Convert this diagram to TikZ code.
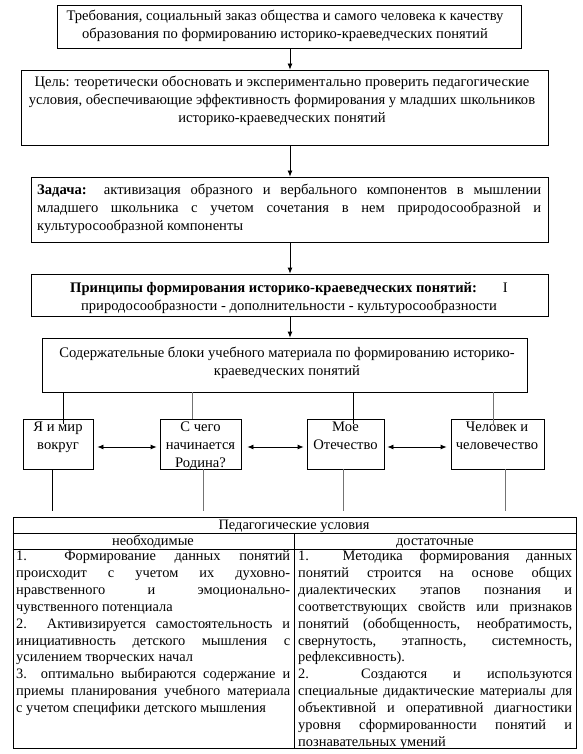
\documentclass[tikz,border=0pt]{standalone}
\usepackage{fontspec}
\setmainfont{Liberation Serif}
\usetikzlibrary{arrows.meta}
\newcommand\jline[2]{\makebox[#1][s]{#2}}
\begin{document}
\begin{tikzpicture}[x=1pt,y=-1pt,
  box/.style={draw, line width=0.8pt, inner sep=0pt},
  txt/.style={inner sep=0pt, font=\fontsize{14.6}{17.8}\selectfont, align=center, anchor=north},
  ltxt/.style={inner sep=0pt, font=\fontsize{14.6}{17.8}\selectfont, align=left, anchor=north west},
  tbtxt/.style={inner sep=0pt, font=\fontsize{14.4}{16.9}\selectfont, align=left, anchor=north west},
  tblab/.style={inner sep=0pt, font=\fontsize{14.4}{16.9}\selectfont, anchor=base},
  arr/.style={-{Latex[length=6pt,width=5pt]}, line width=0.8pt},
  darr/.style={{Latex[length=6pt,width=5pt]}-{Latex[length=6pt,width=5pt]}, line width=0.8pt},
  conn/.style={line width=0.8pt},
  gconn/.style={line width=1pt, draw=black!55}]
\useasboundingbox (0,0) rectangle (582,754);

% main boxes
\node[box, minimum width=464pt, minimum height=43pt] (b1) at (289,26.5) {};
\node[box, minimum width=527pt, minimum height=75pt] (b2) at (284.5,107.5) {};
\node[box, minimum width=517pt, minimum height=65pt] (b3) at (289.5,209.5) {};
\node[box, minimum width=517pt, minimum height=42pt] (b4) at (289.5,295) {};
\node[box, minimum width=485pt, minimum height=54pt] (b5) at (284.5,365) {};

% small boxes
\node[box, minimum width=70pt, minimum height=50pt] (sa) at (58,444) {};
\node[box, minimum width=81pt, minimum height=50pt] (sb) at (200.5,444) {};
\node[box, minimum width=77pt, minimum height=50pt] (sc) at (345.5,444) {};
\node[box, minimum width=93pt, minimum height=50pt] (sd) at (497.5,444) {};

% table
\node[box, minimum width=563pt, minimum height=231pt] (tbl) at (294.5,632.5) {};
\coordinate (r1) at (0,533);
\coordinate (r2) at (0,549);
\coordinate (cd) at (294,0);
\draw[conn] (tbl.west |- r1) -- (tbl.east |- r1);
\draw[conn] (tbl.west |- r2) -- (tbl.east |- r2);
\draw[conn] (cd |- r1) -- (cd |- tbl.south);

% texts
\node[txt] (t1) at (285,8.3) {\strut Требования, социальный заказ общества и самого человека к качеству\\образования по формированию историко-краеведческих понятий};
\node[txt] (t2) at (282,74) {\strut Цель: теоретически обосновать и экспериментально проверить педагогические\\условия, обеспечивающие эффективность формирования у младших школьников\\историко-краеведческих понятий};
\node[ltxt] (t3) at (37,182) {\strut\jline{504pt}{\textbf{Задача:} активизация образного и вербального компонентов в мышлении}\\\jline{504pt}{младшего школьника с учетом сочетания в нем природосообразной и}\\культуросообразной компоненты};
\node[txt] (t4) at (289,280) {\strut\textbf{Принципы формирования историко-краеведческих понятий:}\hspace{26pt}I\\природосообразности - дополнительности - культуросообразности};
\node[txt] (t5) at (287,345) {\strut Содержательные блоки учебного материала по формированию историко-\\краеведческих понятий};

\node[txt] (ta) at (58,419) {\strut Я и мир\\вокруг};
\node[txt] (tb) at (200.5,419) {\strut С чего\\начинается\\Родина?};
\node[txt] (tc) at (345.5,419) {\strut Мое\\Отечество};
\node[txt] (td) at (497,419) {\strut Человек и\\человечество};

\node[tblab] (th) at (294,529.5) {Педагогические условия};
\node[tblab] (tn) at (153,545.5) {необходимые};
\node[tblab] (tdst) at (435,545.5) {достаточные};

\node[tbtxt] (tl) at (16,548.5) {\strut\jline{274pt}{1.\ \ Формирование данных понятий}\\
\jline{274pt}{происходит с учетом их духовно-}\\
\jline{274pt}{нравственного и эмоционально-}\\
чувственного потенциала\\
\jline{274pt}{2.\ \ Активизируется самостоятельность и}\\
\jline{274pt}{инициативность детского мышления с}\\
усилением творческих начал\\
\jline{274pt}{3.\ \ оптимально выбираются содержание и}\\
\jline{274pt}{приемы планирования учебного материала}\\
с учетом специфики детского мышления};

\node[tbtxt] (tr) at (298,548.5) {\strut\jline{274pt}{1.\ \ Методика формирования данных}\\
\jline{274pt}{понятий строится на основе общих}\\
\jline{274pt}{диалектических этапов познания и}\\
\jline{274pt}{соответствующих свойств или признаков}\\
\jline{274pt}{понятий (обобщенность, необратимость,}\\
\jline{274pt}{свернутость, этапность, системность,}\\
рефлексивность).\\
\jline{274pt}{2.\ \ Создаются и используются}\\
\jline{274pt}{специальные дидактические материалы для}\\
\jline{274pt}{объективной и оперативной диагностики}\\
\jline{274pt}{уровня сформированности понятий и}\\
познавательных умений};

% vertical arrows
\coordinate (ax) at (290,0);
\draw[arr] (b1.south -| ax) -- (b2.north -| ax);
\draw[arr] (b2.south -| ax) -- (b3.north -| ax);
\draw[arr] (b3.south -| ax) -- (b4.north -| ax);
\draw[arr] (b4.south -| ax) -- (b5.north -| ax);

% connectors from b5 to small boxes
\coordinate (ea) at (63,424);
\coordinate (eb) at (192,419);
\coordinate (ec) at (353,424);
\coordinate (ed) at (493,424);
\draw[conn] (b5.south -| ea) -- (ea);
\draw[gconn] (b5.south -| eb) -- (eb);
\draw[conn] (b5.south -| ec) -- (ec);
\draw[gconn] (b5.south -| ed) -- (ed);

% connectors from small boxes to table
\coordinate (fa) at (52,511);
\coordinate (fb) at (203,511);
\coordinate (fc) at (343,511);
\coordinate (fd) at (505,511);
\draw[conn] (sa.south -| fa) -- (fa);
\draw[gconn] (sb.south -| fb) -- (fb);
\draw[gconn] (sc.south -| fc) -- (fc);
\draw[gconn] (sd.south -| fd) -- (fd);

% double arrows
\coordinate (ay) at (0,447);
\draw[darr, shorten <=4pt, shorten >=3pt] (sa.east |- ay) -- (sb.west |- ay);
\draw[darr, shorten <=6pt, shorten >=3pt] (sb.east |- ay) -- (sc.west |- ay);
\draw[darr, shorten <=3pt, shorten >=4pt] (sc.east |- ay) -- (sd.west |- ay);
\end{tikzpicture}
\end{document}
